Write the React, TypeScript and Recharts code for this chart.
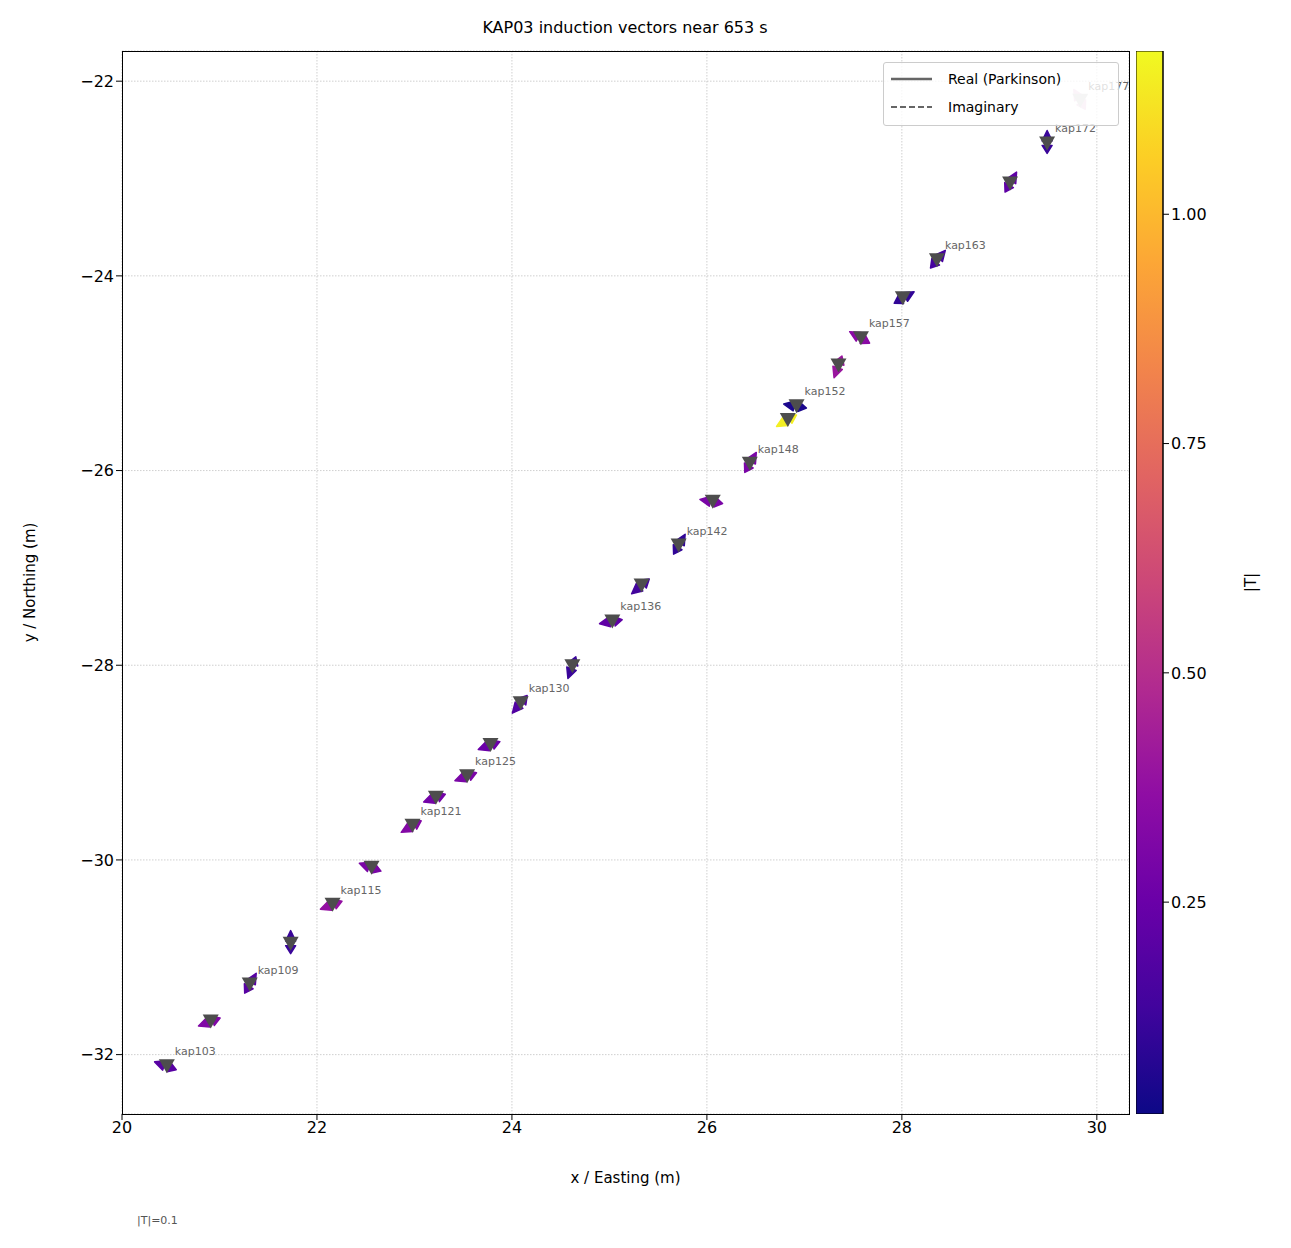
import { ScatterChart, Scatter, XAxis, YAxis, CartesianGrid, BarChart, Bar } from "recharts";

// station positions (m)
const stationNames = ["kap103", "kap106", "kap109", "kap112", "kap115", "kap118", "kap121", "kap123", "kap125", "kap128", "kap130", "kap133", "kap136", "kap139", "kap142", "kap145", "kap148", "kap150", "kap152", "kap155", "kap157", "kap160", "kap163", "kap168", "kap172", "kap177"];
const stationX = [20.46, 20.91, 21.31, 21.73, 22.16, 22.56, 22.98, 23.22, 23.54, 23.78, 24.09, 24.62, 25.03, 25.33, 25.71, 26.06, 26.44, 26.83, 26.92, 27.35, 27.58, 28.01, 28.36, 29.11, 29.49, 29.83];
const stationY = [-32.12, -31.66, -31.28, -30.86, -30.46, -30.08, -29.65, -29.36, -29.14, -28.82, -28.39, -28.01, -27.55, -27.18, -26.77, -26.32, -25.93, -25.48, -25.34, -24.92, -24.64, -24.23, -23.84, -23.05, -22.64, -22.2];
const labelled = ["kap103", "kap109", "kap115", "kap121", "kap125", "kap130", "kap136", "kap142", "kap148", "kap152", "kap157", "kap163", "kap172", "kap177"];
// induction vector magnitude |T| and directions (deg, math convention)
const tMag = [0.2, 0.32, 0.2, 0.12, 0.38, 0.3, 0.33, 0.28, 0.3, 0.25, 0.18, 0.12, 0.22, 0.14, 0.1, 0.3, 0.3, 1.15, 0.05, 0.4, 0.35, 0.1, 0.15, 0.22, 0.12, 0.5];
const realDir = [160, 200, 60, 90, 200, 160, 210, 200, 200, 200, 230, 250, 190, 220, 60, 170, 60, 210, 170, 250, 150, 30, 50, 60, 90, 120];
const imagDir = [-20, 20, 240, 270, 20, -20, 30, 20, 20, 20, 50, 70, 10, 40, 240, -10, 240, 30, -10, 70, -30, 210, 230, 240, 270, 300];

const xTicks = [20, 22, 24, 26, 28, 30];
const yTicks = [-32, -30, -28, -26, -24, -22];
const cbTicks = [0.25, 0.5, 0.75, 1.0];
const T_MIN = 0.019;
const T_MAX = 1.178;

const stations = stationNames.map((name, i) => ({
  name, x: stationX[i], y: stationY[i], t: tMag[i], real: realDir[i], imag: imagDir[i],
}));

const plasmaStops = ["#0d0887", "#41049d", "#6a00a8", "#8f0da4", "#b12a90", "#cc4778", "#e16462", "#f2844b", "#fca636", "#fcce25", "#f0f921"];
const hexToRgb = (h: string) => [1, 3, 5].map((k) => parseInt(h.slice(k, k + 2), 16));
const plasma = (v: number) => {
  const u = Math.max(0, Math.min(1, v)) * (plasmaStops.length - 1);
  const i = Math.min(Math.floor(u), plasmaStops.length - 2);
  const f = u - i;
  const a = hexToRgb(plasmaStops[i]);
  const b = hexToRgb(plasmaStops[i + 1]);
  return `rgb(${a.map((c, k) => Math.round(c + (b[k] - c) * f)).join(",")})`;
};

const FONT = "DejaVu Sans, sans-serif";

const arrowHead = (cx: number, cy: number, deg: number, len: number) => {
  const r = (deg * Math.PI) / 180;
  const dx = Math.cos(r), dy = -Math.sin(r);
  const tipX = cx + dx * len, tipY = cy + dy * len;
  const bx = cx + dx * len * 0.2, by = cy + dy * len * 0.2;
  const px = -dy * 5, py = dx * 5;
  return `M${tipX},${tipY} L${bx + px},${by + py} L${bx - px},${by - py} Z`;
};

const VectorShape = (props: any) => {
  const { cx, cy, payload } = props;
  const col = plasma((payload.t - T_MIN) / (T_MAX - T_MIN));
  const faded = payload.name === "kap177";
  return (
    <g opacity={faded ? 0.25 : 1}>
      <path d={arrowHead(cx, cy, payload.real, 13)} fill={col} stroke={col} strokeWidth={1.5} strokeLinejoin="round" />
      <path d={arrowHead(cx, cy, payload.imag, 10)} fill={col} stroke={col} strokeWidth={1.5} strokeLinejoin="round" />
    </g>
  );
};

const StationShape = (props: any) => {
  const { cx, cy, payload } = props;
  const faded = payload.name === "kap177";
  return (
    <g>
      <path d={`M${cx - 8},${cy - 7} L${cx + 8},${cy - 7} L${cx},${cy + 7} Z`} fill={faded ? "#cccccc" : "#4d4d4d"} />
      {labelled.includes(payload.name) && (
        <text x={cx + 8} y={cy - 11} fontSize={11} fill="#666" fontFamily={FONT}>{payload.name}</text>
      )}
    </g>
  );
};

const LegendBox = () => (
  <div style={{ position: "absolute", left: 883, top: 62, width: 234, height: 62, background: "rgba(255,255,255,0.8)", border: "1px solid #ccc", borderRadius: 3 }}>
    <svg width={234} height={62} style={{ position: "absolute", left: 0, top: 0 }}>
      <line x1={7} y1={16} x2={48} y2={16} stroke="#666" strokeWidth={2.5} />
      <line x1={7} y1={44} x2={48} y2={44} stroke="#666" strokeWidth={2} strokeDasharray="6,3" />
      <text x={64} y={21} fontSize={14} fontFamily={FONT}>Real (Parkinson)</text>
      <text x={64} y={49} fontSize={14} fontFamily={FONT}>Imaginary</text>
    </svg>
  </div>
);

const cbData = [{ name: "cb", lo: T_MIN, span: T_MAX - T_MIN }];

export default function App() {
  const tickStyle = { fontSize: 16, fill: "#000", fontFamily: FONT };
  const labelStyle = { fontSize: 15, fill: "#000", fontFamily: FONT };
  return (
    <div style={{ position: "absolute", left: 0, top: 0, width: 1291, height: 1248, background: "#fff", fontFamily: FONT }}>
      <div style={{ position: "absolute", left: 0, width: 1250, top: 18, textAlign: "center", fontSize: 16 }}>KAP03 induction vectors near 653 s</div>
      <ScatterChart width={1180} height={1248} margin={{ top: 51, left: 52, right: 51, bottom: 104 }} style={{ position: "absolute", left: 0, top: 0 }}>
        <CartesianGrid stroke="#bbb" strokeDasharray="1.5 1.5" strokeWidth={0.7} />
        <XAxis type="number" dataKey="x" domain={[20, 30.33]} ticks={xTicks} allowDataOverflow tick={tickStyle} tickSize={6} stroke="#000" axisLine={false} height={30}
          label={{ value: "x / Easting  (m)", position: "bottom", offset: 28, style: labelStyle }} />
        <YAxis type="number" dataKey="y" domain={[-32.61, -21.69]} ticks={yTicks} allowDataOverflow tick={tickStyle} tickSize={6} stroke="#000" width={70} axisLine={false}
          tickFormatter={(v: number) => String(v).replace("-", "\u2212")}
          label={{ value: "y / Northing  (m)", angle: -90, position: "left", offset: 22, style: { ...labelStyle, textAnchor: "middle" } }} />
        <Scatter data={stations} shape={VectorShape} isAnimationActive={false} />
        <Scatter data={stations} shape={StationShape} isAnimationActive={false} />
      </ScatterChart>
      <div style={{ position: "absolute", left: 122, top: 51, width: 1006, height: 1062, border: "1.2px solid #000", pointerEvents: "none" }} />
      <LegendBox />
      <div style={{ position: "absolute", left: 137, top: 1214, fontSize: 11, color: "#555" }}>|T|=0.1</div>
      <BarChart width={160} height={1248} data={cbData} margin={{ top: 51, bottom: 134, left: 0, right: 0 }} barCategoryGap={0}
        style={{ position: "absolute", left: 1136, top: 0 }}>
        <defs>
          <linearGradient id="plasmaGrad" x1="0" y1="1" x2="0" y2="0">
            {plasmaStops.map((c, i) => <stop key={i} offset={`${(i / (plasmaStops.length - 1)) * 100}%`} stopColor={c} />)}
          </linearGradient>
        </defs>
        <XAxis dataKey="name" hide />
        <YAxis orientation="right" type="number" domain={[T_MIN, T_MAX]} ticks={cbTicks} allowDataOverflow width={133} tick={tickStyle} tickSize={6} stroke="#000"
          tickFormatter={(v: number) => v.toFixed(2)}
          label={{ value: "|T|", angle: -90, position: "insideLeft", offset: 88, style: { ...labelStyle, textAnchor: "middle" } }} />
        <Bar dataKey="lo" stackId="a" fill="transparent" isAnimationActive={false} />
        <Bar dataKey="span" stackId="a" fill="url(#plasmaGrad)" stroke="#000" strokeWidth={1} isAnimationActive={false} />
      </BarChart>
    </div>
  );
}
